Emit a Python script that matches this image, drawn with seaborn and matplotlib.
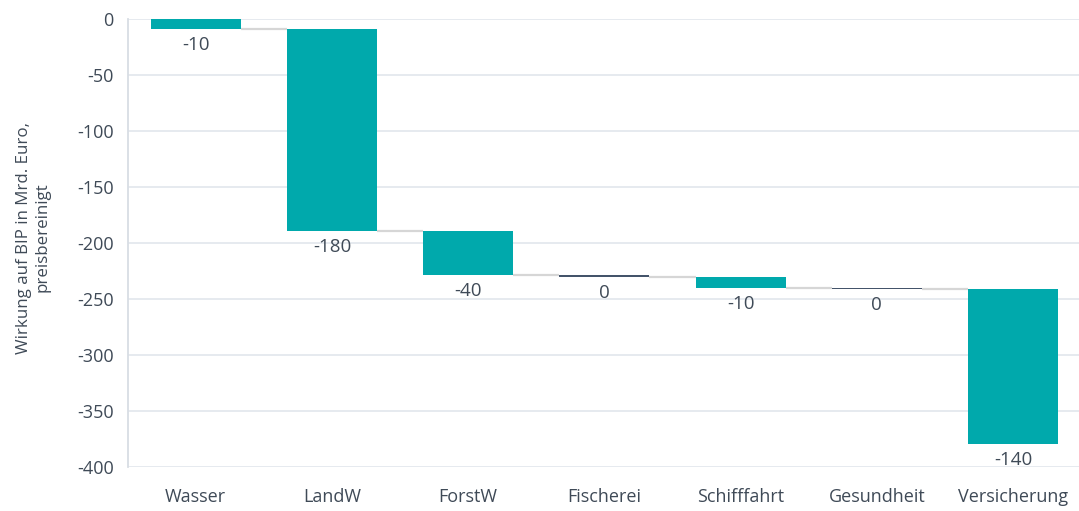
import matplotlib
matplotlib.use("Agg")
import matplotlib.pyplot as plt
import seaborn as sns
import numpy as np
import pandas as pd

categories = ["Wasser", "LandW", "ForstW", "Fischerei", "Schifffahrt", "Gesundheit", "Versicherung"]
changes = [-9, -180, -40, -1, -10, -1, -139]
value_labels = ["-10", "-180", "-40", "0", "-10", "0", "-140"]
y_ticks = [0, -50, -100, -150, -200, -250, -300, -350, -400]
y_label = "Wirkung auf BIP in Mrd. Euro,\npreisbereinigt"

TEAL = "#00A9AC"
NAVY = "#44546A"
TEXT = "#3F4A57"
GRID = "#E4E8EE"
CONNECT = "#D6D6D6"

sns.set_theme(style="white")
plt.rcParams["font.family"] = ["Open Sans", "DejaVu Sans"]

df = pd.DataFrame({"cat": categories, "change": changes})
ends = np.cumsum(changes)
starts = ends - np.array(changes)

fig = plt.figure(figsize=(10.79, 5.11), dpi=100)
ax = fig.add_axes([0.1183, 0.0867, 1.0 - 0.1183 + 0.002, 0.9622 - 0.0867])

bar_w = 0.66
sns.barplot(data=df, x="cat", y="change", order=categories, color=TEAL,
            saturation=1, width=bar_w, ax=ax, zorder=3, errorbar=None)

for i, (p, s, c) in enumerate(zip(ax.patches, starts, changes)):
    p.set_y(s)
    p.set_height(c)
    p.set_linewidth(0)
    if abs(c) < 5:
        p.set_facecolor(NAVY)

# connectors
for i in range(len(categories) - 1):
    ax.hlines(ends[i], i + bar_w / 2, i + 1 - bar_w / 2, color=CONNECT, lw=1.6, zorder=2)

# value labels
for i, (e, lab) in enumerate(zip(ends, value_labels)):
    ax.annotate(lab, xy=(i, e), xytext=(0, -5), textcoords="offset points",
                ha="center", va="top", fontsize=13.5, color=TEXT, zorder=4)

ax.set_ylim(-400, 0)
ax.set_xlim(-0.5, 6.5)
ax.set_yticks(y_ticks)
ax.set_yticklabels([str(t) for t in y_ticks])
ax.yaxis.grid(True, color=GRID, lw=1.3, zorder=0)
ax.xaxis.grid(False)
ax.set_axisbelow(True)
for side in ["top", "right", "bottom"]:
    ax.spines[side].set_visible(False)
ax.spines["left"].set_color("#D8DDE4")
ax.spines["left"].set_linewidth(1.3)
ax.tick_params(axis="y", length=0, pad=10, labelsize=13, labelcolor=TEXT)
ax.tick_params(axis="x", length=0, pad=15, labelsize=13, labelcolor=TEXT)
ax.set_xlabel("")
ax.set_ylabel("")
fig.text(0.031, 0.535, y_label, rotation=90, ha="center", va="center",
         multialignment="center", fontsize=12.2, color=TEXT, linespacing=1.25)

fig.savefig("out.png", dpi=100, facecolor="white")
